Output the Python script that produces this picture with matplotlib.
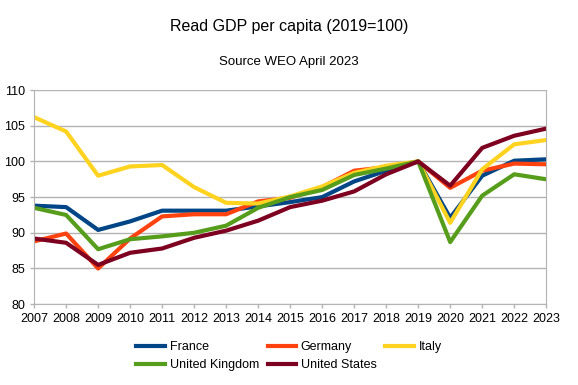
import matplotlib.pyplot as plt
from matplotlib.lines import Line2D

years = list(range(2007, 2024))

france = [93.8, 93.6, 90.4, 91.6, 93.1, 93.1, 93.1, 93.7, 94.3, 95.0, 97.2, 98.7, 100.0, 92.1, 98.0, 100.1, 100.3]
germany = [88.8, 89.9, 85.0, 89.2, 92.3, 92.6, 92.6, 94.4, 94.9, 96.4, 98.7, 99.2, 100.0, 96.3, 98.7, 99.7, 99.6]
italy = [106.2, 104.2, 98.0, 99.3, 99.5, 96.4, 94.2, 94.1, 95.1, 96.5, 98.4, 99.4, 100.0, 91.4, 98.9, 102.4, 103.0]
uk = [93.5, 92.5, 87.7, 89.1, 89.5, 90.0, 91.0, 93.5, 95.0, 96.0, 98.1, 99.0, 100.0, 88.7, 95.2, 98.2, 97.5]
us = [89.2, 88.6, 85.5, 87.2, 87.8, 89.3, 90.3, 91.7, 93.6, 94.5, 95.8, 98.2, 100.0, 96.6, 101.9, 103.6, 104.6]

series = [
    ('France', france, '#004586'),
    ('Germany', germany, '#ff420e'),
    ('Italy', italy, '#ffd320'),
    ('United Kingdom', uk, '#579d1c'),
    ('United States', us, '#7e0021'),
]

plt.rcParams['font.family'] = ['Liberation Sans', 'DejaVu Sans']

fig = plt.figure(figsize=(5.78, 3.85), dpi=100)
ax = fig.add_axes([0.059, 0.21, 0.886, 0.556])

for name, vals, color in series:
    ax.plot(years, vals, color=color, linewidth=3, label=name, solid_capstyle='butt')

ax.set_xlim(2007, 2023)
ax.set_ylim(80, 110)
ax.set_xticks(years)
ax.set_yticks(range(80, 111, 5))
ax.tick_params(labelsize=9, length=3, color='#b3b3b3', width=1)
ax.yaxis.grid(True, color='#b3b3b3', linewidth=1)
ax.set_axisbelow(True)
for s in ax.spines.values():
    s.set_color('#b3b3b3')
ax.spines['top'].set_visible(False)

fig.text(0.5, 0.93, 'Read GDP per capita (2019=100)', ha='center', va='center', fontsize=11.5)
fig.text(0.5, 0.838, 'Source WEO April 2023', ha='center', va='center', fontsize=9.5)

handles = [Line2D([], [], color=c, linewidth=3) for _, _, c in series]
labels = [n for n, _, _ in series]
# order so that columns fill row-wise like the reference
order = [0, 3, 1, 4, 2]
fig.legend([handles[i] for i in order], [labels[i] for i in order],
           ncol=3, loc='center', bbox_to_anchor=(0.5, 0.075), frameon=False,
           fontsize=9, handlelength=2.3, handletextpad=0.35, columnspacing=0.7,
           labelspacing=0.45)

fig.savefig('out.png', dpi=100)
